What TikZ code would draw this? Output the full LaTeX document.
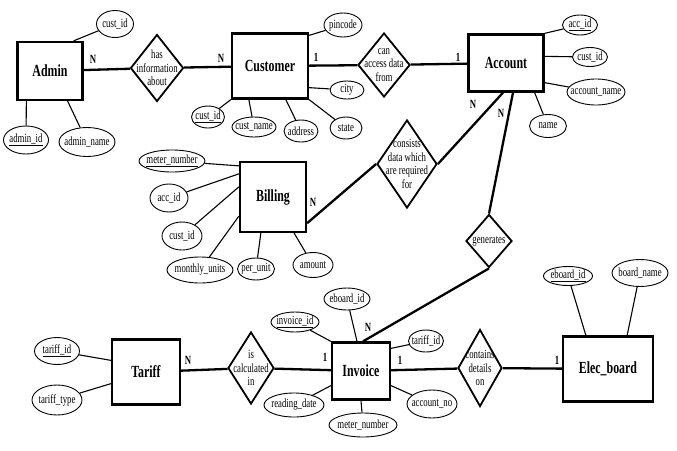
\documentclass[tikz,border=0pt]{standalone}
\usepackage{fontspec}
\setmainfont[FakeStretch=0.7]{Liberation Serif}
\usepackage{tikz}
\usetikzlibrary{shapes.geometric}

\begin{document}
\begin{tikzpicture}[x=1pt,y=-1pt,
	ent/.style={draw, line width=2.3pt, inner sep=0pt, font=\bfseries\fontsize{17}{19}\selectfont},
	att/.style 2 args={draw, ellipse, line width=0.9pt, inner sep=0pt, minimum width=#1pt, minimum height=#2pt, font=\fontsize{12.5}{14}\selectfont},
	rel/.style 2 args={draw, diamond, line width=1.8pt, inner sep=0pt, minimum width=#1pt, minimum height=#2pt},
	reltext/.style={align=center, inner sep=0pt, font=\fontsize{12.5}{13.5}\selectfont},
	card/.style={font=\bfseries\fontsize{12.5}{13}\selectfont},
	relline/.style={line width=2.3pt},
	attline/.style={line width=1.1pt}]
	\useasboundingbox (0,0) rectangle (677,450);

	% entities
	\node[ent, minimum width=65pt, minimum height=58pt] (admin) at (50,71) {Admin};
	\node[ent, minimum width=76pt, minimum height=65pt] (customer) at (270,66) {Customer};
	\node[ent, minimum width=75pt, minimum height=57pt] (account) at (506,63) {Account};
	\node[ent, minimum width=66pt, minimum height=70pt] (billing) at (273,197) {Billing};
	\node[ent, minimum width=68pt, minimum height=65pt] (tariff) at (146,372) {Tariff};
	\node[ent, minimum width=58pt, minimum height=57pt] (invoice) at (361,371) {Invoice};
	\node[ent, minimum width=90pt, minimum height=65pt] (elec) at (608,369) {Elec\_board};

	% relationships
	\node[rel={53}{67}, label={[reltext]center:has\\information\\about}] (hasinfo) at (157,68) {};
	\node[rel={52}{64}, label={[reltext]center:can\\access data\\from}] (canaccess) at (384,65) {};
	\node[rel={60}{88}, label={[reltext]center:consists\\data which\\are required\\for}] (consists) at (407,164) {};
	\node[rel={46}{53}, label={[reltext]center:generates}] (generates) at (489,241) {};
	\node[rel={46}{72}, label={[reltext]center:is\\calculated\\in}] (iscalc) at (251,368) {};
	\node[rel={44}{77}, label={[reltext]center:contains\\details\\on}] (contains) at (480,368) {};

	% attributes of Admin
	\node[att={37}{27}] (admcust) at (115,24) {\makebox[0pt]{cust\_id}};
	\node[att={45}{28}] (admid) at (26,140) {\makebox[0pt]{\underline{admin\_id}}};
	\node[att={56}{29}] (admname) at (87,142) {\makebox[0pt]{admin\_name}};
	\draw[attline] ([xshift=-10pt]admin.north east) -- (admcust);
	\draw[attline] ([xshift=10pt]admin.south west) -- (admid);
	\draw[attline] ([xshift=-16pt]admin.south east) -- (admname);

	% attributes of Customer
	\node[att={38}{24}] (pincode) at (343,25) {\makebox[0pt]{pincode}};
	\node[att={34}{18}] (city) at (347,90) {\makebox[0pt]{city}};
	\node[att={33}{22}] (custid) at (208,117) {\makebox[0pt]{\underline{cust\_id}}};
	\node[att={44}{20}] (custname) at (254,127) {\makebox[0pt]{cust\_name}};
	\node[att={34}{22}] (address) at (301,131) {\makebox[0pt]{address}};
	\node[att={32}{22}] (state) at (346,128) {\makebox[0pt]{state}};
	\draw[attline] ([yshift=-3pt]customer.north east) -- (pincode);
	\draw[attline] ([yshift=12pt]customer.south east) -- (city);
	\draw[attline] (customer.south west) -- (custid);
	\draw[attline] ([xshift=18pt]customer.south west) -- (custname);
	\draw[attline] ([xshift=55pt]customer.south west) -- (address);
	\draw[attline] (customer.south east) -- (state);

	% attributes of Account
	\node[att={35}{20}] (accid) at (580,25) {\makebox[0pt]{\underline{acc\_id}}};
	\node[att={35}{19}] (acccust) at (590,57) {\makebox[0pt]{cust\_id}};
	\node[att={58}{26}] (accname) at (596,92) {\makebox[0pt]{account\_name}};
	\node[att={37}{23}] (name) at (548,126) {\makebox[0pt]{name}};
	\draw[attline] (account.north east) -- (accid);
	\draw[attline] ([yshift=-23pt]account.north east) -- (acccust);
	\draw[attline] ([yshift=10pt]account.south east) -- (accname);
	\draw[attline] ([xshift=-10pt]account.south east) -- (name);

	% attributes of Billing
	\node[att={66}{22}] (bmeter) at (172,161) {\makebox[0pt]{\underline{meter\_number}}};
	\node[att={38}{28}] (baccid) at (169,198) {\makebox[0pt]{acc\_id}};
	\node[att={40}{28}] (bcust) at (182,236) {\makebox[0pt]{cust\_id}};
	\node[att={66}{26}] (bunits) at (200,270) {\makebox[0pt]{monthly\_units}};
	\node[att={37}{22}] (bperunit) at (256,269) {\makebox[0pt]{per\_unit}};
	\node[att={40}{25}] (bamount) at (313,265) {\makebox[0pt]{amount}};
	\draw[attline] ([yshift=-5pt]billing.north west) -- (bmeter);
	\draw[attline] ([yshift=-13pt]billing.north west) -- (baccid);
	\draw[attline] ([yshift=-26pt]billing.north west) -- (bcust);
	\draw[attline] ([yshift=17pt]billing.south west) -- (bunits);
	\draw[attline] ([xshift=22pt]billing.south west) -- (bperunit);
	\draw[attline] ([xshift=-13pt]billing.south east) -- (bamount);

	% attributes of Tariff
	\node[att={45}{27}] (tid) at (57,351) {\makebox[0pt]{\underline{tariff\_id}}};
	\node[att={50}{30}] (ttype) at (57,400) {\makebox[0pt]{tariff\_type}};
	\draw[attline] ([yshift=-22pt]tariff.north west) -- (tid);
	\draw[attline] ([yshift=22pt]tariff.south west) -- (ttype);

	% attributes of Invoice
	\node[att={48}{20}] (invid) at (295,322) {\makebox[0pt]{\underline{invoice\_id}}};
	\node[att={46}{22}] (ieboard) at (347,299) {\makebox[0pt]{eboard\_id}};
	\node[att={35}{22}] (itariff) at (426,341) {\makebox[0pt]{tariff\_id}};
	\node[att={50}{28}] (iaccno) at (432,404) {\makebox[0pt]{account\_no}};
	\node[att={68}{24}] (imeter) at (363,425) {\makebox[0pt]{meter\_number}};
	\node[att={60}{24}] (idate) at (294,405) {\makebox[0pt]{reading\_date}};
	\draw[attline] (invoice.north west) -- (invid);
	\draw[attline] ([xshift=-4pt]invoice.north) -- (ieboard);
	\draw[attline] ([yshift=-7pt]invoice.north east) -- (itariff);
	\draw[attline] ([yshift=15pt]invoice.south east) -- (iaccno);
	\draw[attline] (invoice.south) -- (imeter);
	\draw[attline] ([yshift=15pt]invoice.south west) -- (idate);

	% attributes of Elec_board
	\node[att={49}{19}] (eid) at (568,276) {\makebox[0pt]{\underline{eboard\_id}}};
	\node[att={56}{27}] (ename) at (640,273) {\makebox[0pt]{board\_name}};
	\draw[attline] ([xshift=24pt]elec.north west) -- (eid);
	\draw[attline] ([xshift=-27pt]elec.north east) -- (ename);

	% relationship lines
	\draw[relline] (admin) -- (hasinfo) -- (customer);
	\draw[relline] (customer) -- (canaccess) -- (account);
	\draw[relline] ([xshift=-3pt]account.south) -- (consists.east);
	\draw[relline] (consists.west) -- ([yshift=10pt]billing.south east);
	\draw[relline] ([xshift=7pt]account.south) -- (generates.north);
	\draw[relline] (generates.south) -- ([xshift=2pt]invoice.north);
	\draw[relline] (tariff) -- (iscalc) -- (invoice);
	\draw[relline] (invoice) -- (contains) -- (elec);

	% cardinalities
	\node[card] (c1) at (93,59) {N};
	\node[card] (c2) at (221,58) {N};
	\node[card] (c3) at (316,57) {1};
	\node[card] (c4) at (458,57) {1};
	\node[card] (c5) at (473,104) {N};
	\node[card] (c6) at (501,113) {N};
	\node[card] (c7) at (313,202) {N};
	\node[card] (c8) at (368,327) {N};
	\node[card] (c9) at (188,360) {N};
	\node[card] (c10) at (325,357) {1};
	\node[card] (c11) at (400,360) {1};
	\node[card] (c12) at (557,360) {1};
\end{tikzpicture}
\end{document}
